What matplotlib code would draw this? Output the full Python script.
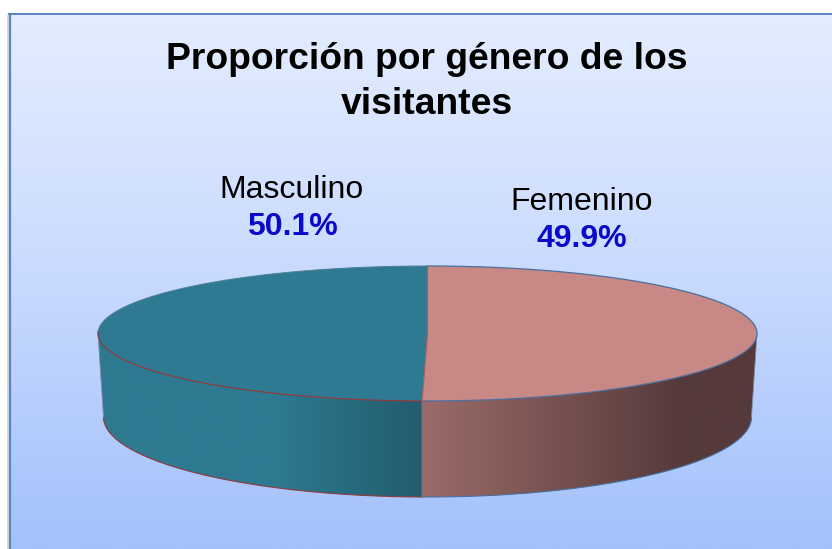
"""Pastel 3D: proporción por género de los visitantes."""
import matplotlib
matplotlib.use("Agg")
import matplotlib.pyplot as plt
import numpy as np
from matplotlib.colors import LinearSegmentedColormap
from matplotlib.patches import Polygon, Rectangle

plt.rcParams["font.family"] = ["Liberation Sans", "DejaVu Sans"]

TITLE = "Proporción por género de los\nvisitantes"
CATEGORIES = ["Femenino", "Masculino"]
VALUES = [49.9, 50.1]

W, H = 832, 549
# elipse superior e inferior del disco, en pixeles
CX, CY, RX, RY = 427.5, 333.5, 329.5, 67.5
BCY, BRX, BRY = 417, 324, 80
SEAM_TILT = 1.3  # la perspectiva corre un poco la unión hacia la izquierda


def top_pt(t):
    return CX + RX * np.sin(t), CY - RY * np.cos(t)


def bottom_pt(t):
    return CX + BRX * np.sin(t), BCY - BRY * np.cos(t)


fig = plt.figure(figsize=(W / 100, H / 100), dpi=100)
ax = fig.add_axes([0, 0, 1, 1])
ax.axis("off")

# fondo con degradado, sombra y borde
ax.add_patch(Rectangle((6.5, 15), 4, H, fc="#c4c4c4", ec="none", alpha=0.6, zorder=0))
bg = LinearSegmentedColormap.from_list(
    "bg", [(0, "#e4edfe"), (0.45, "#cbdcff"), (1, "#a3c1fb")])
ax.imshow(np.linspace(0, 1, 512)[:, None], cmap=bg, aspect="auto",
          extent=(9, W, H, 13), zorder=1)
ax.plot([9.5, 9.5], [H, 13.5], color="#5b86c0", lw=1.6, zorder=2)
ax.plot([9, W], [13.5, 13.5], color="#5b86c0", lw=1.4, zorder=2)

sweep = 2 * np.pi * VALUES[0] / sum(VALUES) + np.deg2rad(SEAM_TILT)

# caras laterales
faces = [
    (np.linspace(-np.pi / 2, sweep - 2 * np.pi, 200),
     [(0, "#2d7a91"), (0.55, "#2d7a91"), (1, "#225c6d")], "#8e3b3b"),
    (np.linspace(sweep, np.pi / 2, 200),
     [(0, "#9b6b68"), (0.77, "#563a3b"), (1, "#563a3b")], "#4a6f9f"),
]
for ts, stops, edge in faces:
    tx, ty = top_pt(ts)
    bx, by = bottom_pt(ts)
    pts = np.r_[np.c_[tx, ty], np.c_[bx, by][::-1]]
    poly = Polygon(pts, closed=True, fc="none", ec="none", zorder=3)
    ax.add_patch(poly)
    cm = LinearSegmentedColormap.from_list("side", stops)
    im = ax.imshow(np.linspace(0, 1, 512)[None, :], cmap=cm, aspect="auto",
                   extent=(tx[0], tx[-1], BCY + BRY + 2, CY - 2), zorder=3)
    im.set_clip_path(poly)
    ax.plot(bx, by, color=edge, lw=0.8, zorder=4)
    ax.plot([tx[0], bx[0]], [ty[0], by[0]], color="#7d8ea8", lw=0.6, zorder=4)
    ax.plot([tx[-1], bx[-1]], [ty[-1], by[-1]], color="#8e3b3b" if edge == "#8e3b3b" else "#7d8ea8",
            lw=1.0 if edge == "#8e3b3b" else 0.6, zorder=4)
ax.set_xlim(0, W)
ax.set_ylim(H, 0)

# caras superiores
tops = [
    (np.linspace(0, sweep, 300), "#c88886", "#4a6f9f", 0.9),
    (np.linspace(sweep, 2 * np.pi, 300), "#2e7a92", "#8e3b3b", 0.9),
]
for ts, fc, edge, lw in tops:
    ex, ey = top_pt(ts)
    pts = np.r_[[[CX, CY]], np.c_[ex, ey]]
    ax.add_patch(Polygon(pts, closed=True, fc=fc, ec="none", zorder=5))
    front = np.cos(ts) <= 0.05  # el borde rojo solo se nota en la parte delantera
    ax.plot(ex[front] if fc == "#2e7a92" else ex, ey[front] if fc == "#2e7a92" else ey,
            color=edge, lw=lw, zorder=6)
ex, ey = top_pt(np.linspace(3 * np.pi / 2, 2 * np.pi, 200))
ax.plot(ex, ey, color="#4f7f96", lw=0.7, zorder=6)

# unión entre sectores
sx, sy = top_pt(sweep)
ax.plot([CX, CX, sx], [CY - RY, CY, sy], color="#a5605c", lw=0.9, zorder=7)

# textos
ax.text(427, 82, TITLE, ha="center", va="center", fontsize=26.8,
        fontweight="bold", color="black", linespacing=1.35, zorder=8)
label_pos = [(582, 202, 239), (292, 190, 227)]
for cat, val, (lx, y1, y2) in zip(CATEGORIES, VALUES, label_pos):
    ax.text(lx, y1, cat, ha="center", va="center", fontsize=23, color="black", zorder=8)
    ax.text(lx, y2, f"{val:.1f}%", ha="center", va="center", fontsize=23,
            fontweight="bold", color="#0a0ac8", zorder=8)

fig.savefig("out.png", dpi=100)
